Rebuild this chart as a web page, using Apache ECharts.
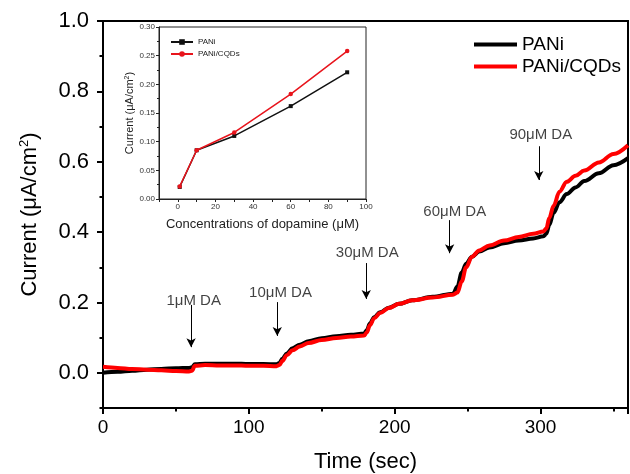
<!DOCTYPE html>
<html>
<head>
<meta charset="utf-8">
<script src="https://cdn.jsdelivr.net/npm/echarts@6/dist/echarts.min.js"></script>
<style>
html,body{margin:0;padding:0;background:#fff;overflow:hidden;}
#c{width:630px;height:474px;}
</style>
</head>
<body>
<div id="c"></div>
<script>
// ---- main chart data ----
var timeSec = [0,10,20,30,40,50,59,61,63,70,80,90,100,110,119,121,123,126,130,135,141,150,160,170,179,181,183,186,190,196,203,212,226,240,243,246,249,253,258,265,275,285,295,302,304,306,309,313,318,324,330,340,350,360];
var paniCurrent = [0.000,0.003,0.006,0.009,0.011,0.013,0.014,0.016,0.024,0.026,0.026,0.026,0.025,0.025,0.024,0.028,0.040,0.055,0.070,0.080,0.090,0.098,0.104,0.108,0.112,0.122,0.140,0.158,0.172,0.185,0.196,0.206,0.216,0.225,0.245,0.285,0.310,0.330,0.345,0.356,0.368,0.376,0.382,0.388,0.395,0.420,0.455,0.485,0.508,0.527,0.545,0.567,0.590,0.610];
var cqdCurrent  = [0.017,0.014,0.011,0.009,0.007,0.005,0.004,0.006,0.020,0.022,0.021,0.021,0.020,0.020,0.019,0.022,0.034,0.050,0.064,0.075,0.085,0.093,0.099,0.103,0.106,0.115,0.135,0.155,0.170,0.184,0.196,0.206,0.214,0.222,0.228,0.260,0.300,0.330,0.348,0.362,0.376,0.386,0.395,0.402,0.410,0.440,0.475,0.515,0.543,0.560,0.575,0.598,0.622,0.647];
var seriesNames = ['PANi','PANi/CQDs'];

// ---- annotations (data coordinates) ----
var annoText   = ['1\u03bcM DA','10\u03bcM DA','30\u03bcM DA','60\u03bcM DA','90\u03bcM DA'];
var annoTextT  = [62.2,121.7,181.2,241.2,300.2];
var annoTextY  = [0.204,0.227,0.340,0.457,0.675];
var arrowT     = [60.4,119.5,180.5,237.7,298.8];
var arrowFromY = [0.193,0.201,0.312,0.434,0.644];
var arrowToY   = [0.073,0.105,0.210,0.340,0.548];

// ---- inset data ----
var insetConc = [1,10,30,60,90];
var insetPani = [0.021,0.085,0.110,0.162,0.221];
var insetCqd  = [0.022,0.085,0.116,0.183,0.258];

var FONT = 'Liberation Sans, Arial, sans-serif';

function pairs(xs, ys){ return xs.map(function(x,i){ return [x, ys[i]]; }); }

var chart = echarts.init(document.getElementById('c'), null, {renderer:'canvas'});

var option = {
  backgroundColor: '#fff',
  animation: false,
  textStyle: {fontFamily: FONT},
  grid: [
    {left:103, top:21, width:525, height:387, show:true, borderColor:'#000', borderWidth:2, backgroundColor:'transparent', containLabel:false, outerBoundsMode:'none'},
    {left:103, top:21, width:525, height:387/1.1, show:false, containLabel:false, outerBoundsMode:'none'},
    {left:159, top:27, width:207, height:172, show:true, borderColor:'#222', borderWidth:1, backgroundColor:'transparent', containLabel:false, outerBoundsMode:'none'}
  ],
  xAxis: [
    {gridIndex:0, type:'value', min:0, max:360, interval:100,
     name:'Time (sec)', nameLocation:'middle', nameGap:43,
     nameTextStyle:{fontSize:22, color:'#000', fontFamily:FONT},
     axisLine:{show:true, onZero:false, lineStyle:{color:'#000', width:2}},
     axisTick:{show:true, length:6, lineStyle:{color:'#000', width:2}},
     minorTick:{show:true, splitNumber:2, length:3.5, lineStyle:{color:'#000', width:2}},
     splitLine:{show:false},
     axisLabel:{fontSize:19, color:'#000', margin:10, fontFamily:FONT, showMaxLabel:false,
       formatter:function(v){ return (Math.round(v)%100===0) ? String(Math.round(v)) : ''; }}},
    {gridIndex:1, type:'value', min:0, max:360, show:false},
    {gridIndex:2, type:'value', min:-10, max:100, interval:10,
     name:'Concentrations of dopamine (\u03bcM)', nameLocation:'middle', nameGap:19,
     nameTextStyle:{fontSize:13, color:'#222', fontFamily:FONT},
     axisLine:{show:true, onZero:false, lineStyle:{color:'#222', width:1}},
     axisTick:{show:true, length:3, lineStyle:{color:'#222', width:1}},
     splitLine:{show:false},
     axisLabel:{fontSize:8, color:'#333', margin:4, fontFamily:FONT,
       formatter:function(v){ return (v>=0 && Math.round(v)%20===0) ? String(Math.round(v)) : ''; }}}
  ],
  yAxis: [
    {gridIndex:0, type:'value', min:-0.1, max:1.0, interval:0.1,
     name:'Current (\u03bcA/cm{sup|2})', nameLocation:'middle', nameGap:61, nameRotate:90,
     nameTextStyle:{fontSize:22, color:'#000', fontFamily:FONT,
       rich:{sup:{fontSize:13, color:'#000', verticalAlign:'top', padding:[0,0,11,0], fontFamily:FONT}}},
     axisLine:{show:true, onZero:false, lineStyle:{color:'#000', width:2}},
     axisTick:{show:true, length:3.5, lineStyle:{color:'#000', width:2}},
     splitLine:{show:false},
     axisLabel:{show:false}},
    {gridIndex:1, type:'value', min:0, max:1.0, interval:0.2,
     axisLine:{show:false},
     axisTick:{show:true, length:6, lineStyle:{color:'#000', width:2}},
     splitLine:{show:false},
     axisLabel:{fontSize:22, color:'#000', margin:14, fontFamily:FONT,
       formatter:function(v){ return v.toFixed(1); }}},
    {gridIndex:2, type:'value', min:0, max:0.30, interval:0.05,
     name:'Current (\u03bcA/cm{sup|2})', nameLocation:'middle', nameGap:23, nameRotate:90,
     nameTextStyle:{fontSize:11, color:'#222', fontFamily:FONT,
       rich:{sup:{fontSize:7, color:'#222', verticalAlign:'top', padding:[0,0,5,0], fontFamily:FONT}}},
     axisLine:{show:true, onZero:false, lineStyle:{color:'#222', width:1}},
     axisTick:{show:true, length:3, lineStyle:{color:'#222', width:1}},
     minorTick:{show:true, splitNumber:2, length:2, lineStyle:{color:'#222', width:1}},
     splitLine:{show:false},
     axisLabel:{fontSize:8, color:'#333', margin:4, fontFamily:FONT,
       formatter:function(v){ return v.toFixed(2); }}}
  ],
  legend: [
    {data:seriesNames, orient:'vertical', left:469, top:30, itemWidth:43, itemHeight:4, itemGap:3,
     icon:'rect',
     textStyle:{fontSize:19, color:'#000', fontFamily:FONT, padding:[0,0,0,0]}},
    {data:['inset_PANi','inset_PANi/CQDs'], orient:'vertical', left:165, top:33, itemWidth:22, itemHeight:7, itemGap:4,
     formatter:function(n){ return n.replace('inset_',''); },
     textStyle:{fontSize:8, color:'#222', fontFamily:FONT}}
  ],
  series: [
    {name:'PANi', type:'line', xAxisIndex:0, yAxisIndex:0, data:pairs(timeSec, paniCurrent),
     showSymbol:false, symbol:'none', smooth:0.35, smoothMonotone:'x',
     lineStyle:{color:'#000', width:4}, itemStyle:{color:'#000'}, z:3},
    {name:'PANi/CQDs', type:'line', xAxisIndex:0, yAxisIndex:0, data:pairs(timeSec, cqdCurrent),
     showSymbol:false, symbol:'none', smooth:0.35, smoothMonotone:'x',
     lineStyle:{color:'#f00', width:4}, itemStyle:{color:'#f00'}, z:4},
    {name:'annotations', type:'scatter', xAxisIndex:0, yAxisIndex:0,
     data: annoText.map(function(t,i){ return [annoTextT[i], annoTextY[i], t]; }),
     symbolSize:1, itemStyle:{color:'rgba(0,0,0,0)'}, silent:true, z:5,
     label:{show:true, position:'inside', color:'#111', fontSize:15, fontFamily:FONT,
       formatter:function(p){ return p.value[2]; }},
     markLine:{silent:true, symbol:['none','arrow'], symbolSize:[7,9], precision:4,
       lineStyle:{color:'#000', width:1, type:'solid'}, label:{show:false},
       data: arrowT.map(function(t,i){ return [{coord:[t, arrowFromY[i]]},{coord:[t, arrowToY[i]]}]; })}},
    {name:'inset_PANi', type:'line', xAxisIndex:2, yAxisIndex:2, data:pairs(insetConc, insetPani),
     symbol:'rect', symbolSize:4, lineStyle:{color:'#111', width:1.5}, itemStyle:{color:'#111'}, z:6},
    {name:'inset_PANi/CQDs', type:'line', xAxisIndex:2, yAxisIndex:2, data:pairs(insetConc, insetCqd),
     symbol:'circle', symbolSize:4.5, lineStyle:{color:'#e8141c', width:1.5}, itemStyle:{color:'#e8141c'}, z:7}
  ]
};
chart.setOption(option);
</script>
</body>
</html>
